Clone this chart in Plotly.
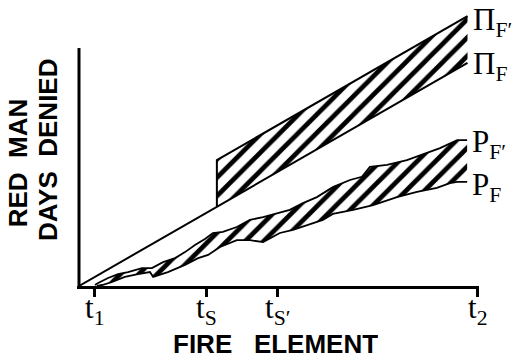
import plotly.graph_objects as go

# Horizontal axis: fire element (time), vertical axis: red man days denied.
tick_vals = [4.0, 32.1, 49.7, 100.0]
tick_text = ["t<sub>1</sub>", "t<sub>S</sub>", "t<sub>S′</sub>", "t<sub>2</sub>"]

# Straight-line curves
pi_f_x = [0.0, 97.5]
pi_f_y = [0.0, 56.0]
pi_fp_x = [34.6, 34.6, 97.5]
pi_fp_y = [19.9, 31.6, 67.7]

# Jagged curves
p_fp_x = [4.0, 4.8, 7.3, 9.8, 12.3, 15.8, 18.3, 21.1, 24.1, 26.6, 29.1, 31.6, 33.6,
          36.1, 39.6, 42.9, 46.2, 49.7, 52.9, 56.2, 59.7, 63.7, 68.0, 71.0, 73.0,
          77.3, 82.3, 87.3, 90.6, 94.9, 97.4]
p_fp_y = [0.25, 0.75, 2.0, 3.0, 3.5, 4.5, 4.5, 6.0, 7.0, 8.5, 10.3, 11.8, 13.3,
          13.6, 14.8, 16.6, 17.3, 18.3, 19.1, 20.8, 22.3, 24.8, 26.6, 27.4, 29.9,
          30.4, 31.6, 33.4, 34.6, 36.6, 36.6]
p_f_x = [4.5, 5.8, 8.3, 11.5, 14.8, 17.8, 18.6, 22.3, 26.6, 29.9, 32.4, 35.4, 39.6,
         42.9, 46.2, 50.4, 53.7, 57.2, 61.2, 63.7, 68.8, 73.8, 79.8, 84.8, 89.8,
         93.1, 94.9, 97.4]
p_f_y = [0.0, 0.25, 1.0, 2.3, 3.0, 3.5, 2.3, 3.5, 5.3, 7.0, 7.8, 9.8, 11.5,
         11.5, 11.0, 13.3, 14.1, 15.3, 16.6, 18.1, 19.1, 20.3, 22.3, 23.6, 24.6,
         25.8, 26.1, 26.1]

y_axis_top = 59.7

hatch = dict(shape="/", size=13, solidity=0.36, fgcolor="black", bgcolor="white",
             fillmode="replace")

fig = go.Figure()

# Hatched band between the two straight curves
fig.add_trace(go.Scatter(
    x=pi_fp_x + [pi_f_x[-1]], y=pi_fp_y + [pi_f_y[-1]],
    fill="toself", fillcolor="white", fillpattern=hatch,
    mode="lines", line=dict(width=0), hoverinfo="skip", showlegend=False))

# Hatched band between the two jagged curves
fig.add_trace(go.Scatter(
    x=p_fp_x + p_f_x[::-1], y=p_fp_y + p_f_y[::-1],
    fill="toself", fillcolor="white", fillpattern=hatch,
    mode="lines", line=dict(width=0), hoverinfo="skip", showlegend=False))

for xs, ys in [(pi_f_x, pi_f_y), (pi_fp_x, pi_fp_y)]:
    fig.add_trace(go.Scatter(x=xs, y=ys, mode="lines",
                             line=dict(color="black", width=2),
                             showlegend=False, hoverinfo="skip"))
for xs, ys in [(p_fp_x, p_fp_y), (p_f_x, p_f_y)]:
    fig.add_trace(go.Scatter(x=xs, y=ys, mode="lines",
                             line=dict(color="black", width=1.8),
                             showlegend=False, hoverinfo="skip"))

# Vertical axis line
fig.add_trace(go.Scatter(x=[0, 0], y=[0, y_axis_top], mode="lines",
                         line=dict(color="black", width=3),
                         showlegend=False, hoverinfo="skip"))

serif = dict(family="Liberation Serif, Times New Roman, serif", size=31, color="black")
bold = dict(family="Liberation Sans, Arial, sans-serif", size=26, color="black",
            weight="bold")

annotations = []

# Curve names at the right-hand ends
ends = [
    ("Π<sub>F′</sub>", pi_fp_x[-1], pi_fp_y[-1], -6),
    ("Π<sub>F</sub>", pi_f_x[-1], pi_f_y[-1], -3),
    ("P<sub>F′</sub>", p_fp_x[-1], p_fp_y[-1], -4),
    ("P<sub>F</sub>", p_f_x[-1], p_f_y[-1], -5),
]
for text, x, y, dy in ends:
    annotations.append(dict(text=text, x=x, y=y, xref="x", yref="y",
                            xanchor="left", yanchor="middle", xshift=3, yshift=dy,
                            showarrow=False, font=serif))

# Time labels under the tick marks
for val, text in zip(tick_vals, tick_text):
    annotations.append(dict(text=text, x=val, y=0, xref="x", yref="y",
                            xanchor="center", yanchor="top", yshift=-2,
                            showarrow=False, font=serif))

annotations.append(dict(text="FIRE\u00a0\u00a0\u00a0ELEMENT", x=0.493, y=-0.207,
                        xref="paper", yref="paper", xanchor="center", yanchor="middle",
                        height=20, valign="middle",
                        showarrow=False, font=bold))
annotations.append(dict(text="RED\u00a0\u00a0MAN", x=-0.147, y=0.44,
                        xref="paper", yref="paper", xanchor="center", yanchor="middle",
                        textangle=-90, showarrow=False, font=bold))
annotations.append(dict(text="DAYS\u00a0\u00a0DENIED", x=-0.072, y=0.484,
                        xref="paper", yref="paper", xanchor="center", yanchor="middle",
                        textangle=-90, showarrow=False, font=bold))

fig.update_layout(
    width=519, height=358,
    margin=dict(l=77, r=40, t=5, b=72),
    paper_bgcolor="white", plot_bgcolor="white",
    annotations=annotations,
    xaxis=dict(range=[-0.502, 100.38], showgrid=False, zeroline=False,
               showline=True, linecolor="black", linewidth=3,
               ticks="outside", ticklen=8, tickwidth=3, tickcolor="black",
               tickvals=tick_vals, showticklabels=False),
    yaxis=dict(range=[0, 70.5], showgrid=False, zeroline=False, showline=False,
               showticklabels=False, ticks=""),
)

fig.write_html("out.html")
